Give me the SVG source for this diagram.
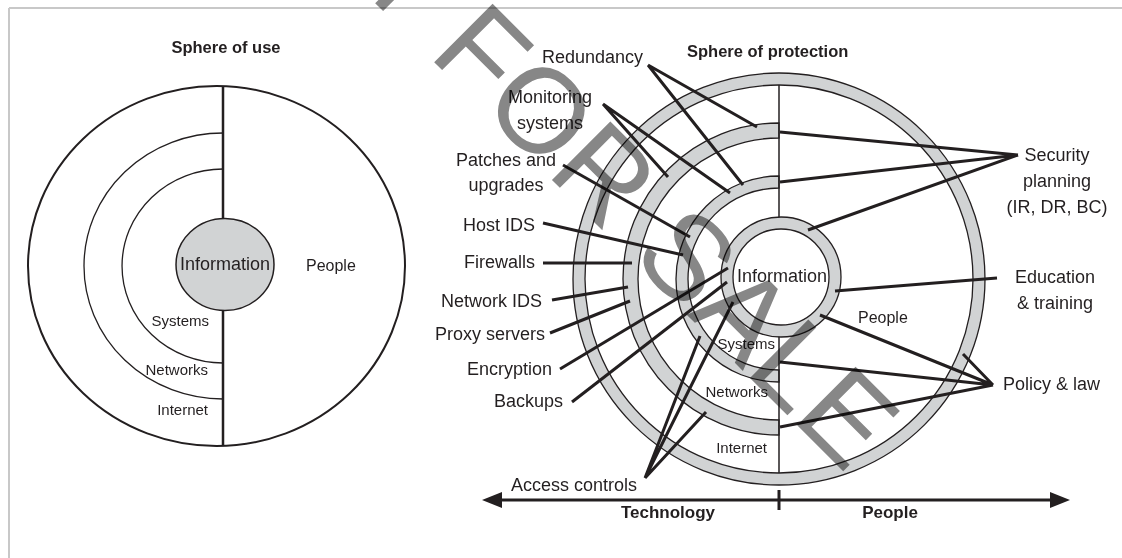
<svg xmlns="http://www.w3.org/2000/svg" width="1122" height="558" viewBox="0 0 1122 558">
  <style>
    text { font-family: "Liberation Sans", Arial, sans-serif; fill: #231f20; }
    .title { font-size: 16.5px; font-weight: bold; }
    .axis { font-size: 17px; font-weight: bold; }
    .lbl { font-size: 18px; }
    .info { font-size: 18px; }
    .ppl { font-size: 16px; }
    .ring-lbl { font-size: 15px; }
    .mid { text-anchor: middle; }
    .end { text-anchor: end; }
    .thin { fill: none; stroke: #231f20; stroke-width: 1.3; }
    .band { fill: #d1d3d4; stroke: #231f20; stroke-width: 1.3; }
    .hole { fill: #ffffff; stroke: #231f20; stroke-width: 1.3; }
    .lead { stroke: #231f20; stroke-width: 3; fill: none; }
    .mark { font-size: 120px; fill: #878787; mix-blend-mode: multiply; }
  </style>

  <rect x="0" y="0" width="1122" height="558" fill="#ffffff"/>

  <!-- page frame -->
  <g id="frame" stroke="#c8c8c8" stroke-width="2" fill="none">
    <line x1="9" y1="8" x2="1122" y2="8"/>
    <line x1="9" y1="8" x2="9" y2="558"/>
  </g>

  <!-- left: sphere of use -->
  <g id="sphere-of-use">
    <text class="title mid" x="226" y="53">Sphere of use</text>
    <ellipse cx="216.5" cy="266" rx="188.5" ry="180" fill="none" stroke="#231f20" stroke-width="2"/>
    <path class="thin" d="M223,133 A139,133 0 0 0 223,399"/>
    <path class="thin" d="M223,169 A101,97 0 0 0 223,363"/>
    <line x1="223" y1="86" x2="223" y2="446" stroke="#231f20" stroke-width="2.5"/>
    <ellipse cx="225" cy="264.5" rx="49" ry="46" fill="#d1d3d4" stroke="#231f20" stroke-width="1.5"/>
    <text class="info mid" x="225" y="270">Information</text>
    <text class="ppl" x="306" y="271">People</text>
    <text class="ring-lbl end" x="209" y="326">Systems</text>
    <text class="ring-lbl end" x="208" y="375">Networks</text>
    <text class="ring-lbl end" x="208" y="415">Internet</text>
  </g>

  <!-- right: sphere of protection -->
  <g id="sphere-of-protection">
    <text class="title" x="687" y="57">Sphere of protection</text>
    <!-- outer ring (internet boundary) -->
    <circle class="band" cx="779" cy="279" r="206"/>
    <circle class="hole" cx="779" cy="279" r="194"/>
    <!-- networks and systems half rings on the technology side -->
    <path class="band" d="M779,123 A156,156 0 0 0 779,435 L779,420 A141,141 0 0 1 779,138 Z"/>
    <path class="band" d="M779,176 A103,103 0 0 0 779,382 L779,370 A91,91 0 0 1 779,188 Z"/>
    <line x1="779" y1="85" x2="779" y2="473" stroke="#231f20" stroke-width="1.5"/>
    <!-- information ring -->
    <circle class="band" cx="781" cy="277" r="60"/>
    <circle class="hole" cx="781" cy="277" r="48"/>
    <text class="info mid" x="782" y="282">Information</text>
    <text class="ppl" x="858" y="323">People</text>
    <text class="ring-lbl end" x="775" y="349">Systems</text>
    <text class="ring-lbl end" x="768" y="397">Networks</text>
    <text class="ring-lbl end" x="767" y="453">Internet</text>
  </g>

  <!-- leader lines -->
  <g id="connectors" class="lead">
    <path d="M648,65 L757,127 M648,65 L743,185"/>
    <path d="M603,104 L668,177 M603,104 L730,193"/>
    <path d="M563,165 L690,237"/>
    <path d="M543,223 L683,255"/>
    <path d="M543,263 L632,263"/>
    <path d="M552,300 L628,287"/>
    <path d="M550,333 L630,301"/>
    <path d="M560,369 L728,268"/>
    <path d="M572,402 L727,282"/>
    <path d="M645,478 L700,336 M645,478 L733,302 M645,478 L706,412"/>
    <path d="M1018,155 L780,132 M1018,155 L780,182 M1018,155 L808,230"/>
    <path d="M997,278 L835,291"/>
    <path d="M993,385 L820,315 M993,385 L963,354 M993,385 L780,362 M993,385 L780,427"/>
  </g>

  <!-- control labels -->
  <g id="label-redundancy"><text class="lbl" x="542" y="63">Redundancy</text></g>
  <g id="label-monitoring">
    <text class="lbl mid" x="550" y="103">Monitoring</text>
    <text class="lbl mid" x="550" y="129">systems</text>
  </g>
  <g id="label-patches">
    <text class="lbl mid" x="506" y="166">Patches and</text>
    <text class="lbl mid" x="506" y="191">upgrades</text>
  </g>
  <g id="label-host-ids"><text class="lbl end" x="535" y="231">Host IDS</text></g>
  <g id="label-firewalls"><text class="lbl end" x="535" y="268">Firewalls</text></g>
  <g id="label-network-ids"><text class="lbl end" x="542" y="307">Network IDS</text></g>
  <g id="label-proxy"><text class="lbl end" x="545" y="340">Proxy servers</text></g>
  <g id="label-encryption"><text class="lbl end" x="552" y="375">Encryption</text></g>
  <g id="label-backups"><text class="lbl end" x="563" y="407">Backups</text></g>
  <g id="label-access"><text class="lbl end" x="637" y="491">Access controls</text></g>
  <g id="label-security-planning">
    <text class="lbl mid" x="1057" y="161">Security</text>
    <text class="lbl mid" x="1057" y="187">planning</text>
    <text class="lbl mid" x="1057" y="213">(IR, DR, BC)</text>
  </g>
  <g id="label-education">
    <text class="lbl mid" x="1055" y="283">Education</text>
    <text class="lbl mid" x="1055" y="309">&amp; training</text>
  </g>
  <g id="label-policy"><text class="lbl" x="1003" y="390">Policy &amp; law</text></g>

  <!-- technology / people axis -->
  <g id="axis">
    <line x1="498" y1="500" x2="1054" y2="500" stroke="#231f20" stroke-width="3"/>
    <polygon points="482,500 502,492 502,508" fill="#231f20"/>
    <polygon points="1070,500 1050,492 1050,508" fill="#231f20"/>
    <line x1="779" y1="490" x2="779" y2="510" stroke="#231f20" stroke-width="3"/>
    <text class="axis mid" x="668" y="518">Technology</text>
    <text class="axis mid" x="890" y="518">People</text>
  </g>

  <!-- diagonal stamp -->
  <g id="stamp">
    <text class="mark" transform="translate(226,-146) rotate(45)">NOT FOR SALE</text>
  </g>
</svg>
